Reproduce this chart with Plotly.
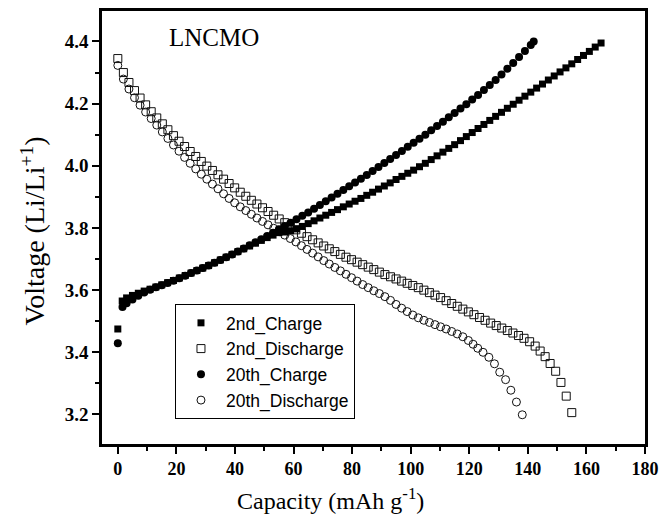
import plotly.graph_objects as go

# ---- data ----
cap_2nd_charge = [0, 1.5, 3, 5, 7, 9, 11, 13, 15, 17, 19, 21, 23, 25, 27, 29, 31, 33, 35, 37, 39,
                  41, 43, 45, 47, 49, 51, 53, 55, 57, 59, 61, 63, 65, 67, 69, 71, 73, 75, 77, 79,
                  81, 83, 85, 87, 89, 91, 93, 95, 97, 99, 101, 103, 105, 107, 109, 111, 113, 115,
                  117, 119, 121, 123, 125, 127, 129, 131, 133, 135, 137, 139, 141, 143, 145, 147,
                  149, 151, 153, 155, 157, 159, 161, 163, 165]
v_2nd_charge = [3.475, 3.565, 3.575, 3.583, 3.590, 3.597, 3.603, 3.610, 3.617, 3.624, 3.631,
                3.639, 3.647, 3.655, 3.663, 3.671, 3.679, 3.688, 3.697, 3.706, 3.715, 3.724,
                3.733, 3.742, 3.751, 3.760, 3.769, 3.777, 3.785, 3.787, 3.791, 3.797, 3.805,
                3.814, 3.823, 3.832, 3.841, 3.850, 3.859, 3.868, 3.877, 3.886, 3.895, 3.905,
                3.915, 3.925, 3.935, 3.945, 3.956, 3.966, 3.976, 3.986, 3.997, 4.008, 4.020,
                4.032, 4.044, 4.056, 4.068, 4.081, 4.094, 4.107, 4.120, 4.133, 4.146, 4.159,
                4.172, 4.185, 4.198, 4.211, 4.224, 4.237, 4.250, 4.263, 4.276, 4.289, 4.302,
                4.315, 4.328, 4.342, 4.355, 4.368, 4.382, 4.395]

cap_20th_charge = [0, 1.6, 3, 5, 7, 9, 11, 13, 15, 17, 19, 21, 23, 25, 27, 29, 31, 33, 35, 37, 39,
                   41, 43, 45, 47, 49, 51, 53, 55, 57, 59, 61, 63, 65, 67, 69, 71, 73, 75, 77, 79,
                   81, 83, 85, 87, 89, 91, 93, 95, 97, 99, 101, 103, 105, 107, 109, 111, 113, 115,
                   117, 119, 121, 123, 125, 127, 129, 131, 133, 135, 137, 139, 141, 142]
v_20th_charge = [3.429, 3.546, 3.558, 3.570, 3.582, 3.592, 3.601, 3.609, 3.616, 3.623, 3.630,
                 3.638, 3.646, 3.655, 3.663, 3.671, 3.679, 3.688, 3.697, 3.706, 3.715, 3.724,
                 3.734, 3.744, 3.754, 3.764, 3.774, 3.785, 3.796, 3.806, 3.817, 3.828, 3.839,
                 3.850, 3.862, 3.874, 3.886, 3.898, 3.910, 3.922, 3.934, 3.946, 3.958, 3.970,
                 3.983, 3.996, 4.009, 4.022, 4.035, 4.048, 4.061, 4.074, 4.087, 4.100, 4.114,
                 4.128, 4.142, 4.156, 4.170, 4.184, 4.198, 4.213, 4.228, 4.244, 4.260, 4.276,
                 4.294, 4.312, 4.331, 4.350, 4.369, 4.389, 4.400]

cap_2nd_discharge = [0, 1.9, 3.8, 5.7, 7.6, 9.5, 11.4, 13.3, 15.2, 17.1, 19.0, 20.9, 22.8, 24.7,
                     26.6, 28.5, 30.4, 32.3, 34.2, 36.1, 38.0, 39.9, 41.8, 43.7, 45.6, 47.5, 49.4,
                     51.3, 53.2, 55.1, 57.0, 58.9, 60.8, 62.7, 64.6, 66.5, 68.4, 70.3, 72.2, 74.1,
                     76.0, 77.9, 79.8, 81.7, 83.6, 85.5, 87.4, 89.3, 91.2, 93.1, 95.0, 96.9, 98.8,
                     100.7, 102.6, 104.5, 106.4, 108.3, 110.2, 112.1, 114.0, 115.9, 117.8, 119.7,
                     121.6, 123.5, 125.4, 127.3, 129.2, 131.1, 133.0, 134.9, 136.8, 138.7, 140.6,
                     142.5, 144.2, 145.9, 147.6, 149.5, 151.3, 153.1, 155.0]
v_2nd_discharge = [4.345, 4.300, 4.268, 4.242, 4.218, 4.196, 4.174, 4.154, 4.135, 4.116, 4.097,
                   4.079, 4.062, 4.046, 4.030, 4.014, 3.999, 3.985, 3.971, 3.957, 3.943, 3.929,
                   3.915, 3.902, 3.889, 3.877, 3.865, 3.853, 3.841, 3.829, 3.817, 3.805, 3.794,
                   3.783, 3.772, 3.762, 3.752, 3.742, 3.733, 3.724, 3.715, 3.706, 3.698, 3.690,
                   3.682, 3.674, 3.666, 3.658, 3.650, 3.643, 3.636, 3.629, 3.622, 3.615, 3.608,
                   3.600, 3.592, 3.584, 3.576, 3.566, 3.557, 3.548, 3.539, 3.530, 3.521, 3.512,
                   3.503, 3.494, 3.486, 3.478, 3.470, 3.462, 3.454, 3.445, 3.434, 3.420, 3.404,
                   3.386, 3.364, 3.339, 3.303, 3.259, 3.206]

cap_20th_discharge = [0, 1.9, 3.8, 5.7, 7.6, 9.5, 11.4, 13.3, 15.2, 17.1, 19.0, 20.9, 22.8, 24.7,
                      26.6, 28.5, 30.4, 32.3, 34.2, 36.1, 38.0, 39.9, 41.8, 43.7, 45.6, 47.5, 49.4,
                      51.3, 53.2, 55.1, 57.0, 58.9, 60.8, 62.7, 64.6, 66.5, 68.4, 70.3, 72.2, 74.1,
                      76.0, 77.9, 79.8, 81.7, 83.6, 85.5, 87.4, 89.3, 91.2, 93.1, 95.0, 96.9, 98.8,
                      100.7, 102.6, 104.5, 106.4, 108.3, 110.2, 112.1, 114.0, 115.9, 117.8, 119.7,
                      121.3, 122.9, 124.7, 126.7, 128.6, 130.4, 132.4, 134.2, 136.1, 138.1]
v_20th_discharge = [4.323, 4.279, 4.247, 4.219, 4.195, 4.173, 4.152, 4.131, 4.109, 4.088, 4.067,
                    4.047, 4.027, 4.008, 3.990, 3.973, 3.957, 3.941, 3.926, 3.910, 3.895, 3.881,
                    3.868, 3.856, 3.844, 3.832, 3.821, 3.810, 3.799, 3.788, 3.777, 3.766, 3.755,
                    3.743, 3.731, 3.719, 3.707, 3.695, 3.684, 3.673, 3.662, 3.651, 3.640, 3.629,
                    3.618, 3.608, 3.598, 3.589, 3.579, 3.567, 3.554, 3.542, 3.531, 3.520, 3.511,
                    3.503, 3.496, 3.489, 3.482, 3.475, 3.467, 3.459, 3.450, 3.438, 3.426, 3.413,
                    3.400, 3.384, 3.363, 3.336, 3.312, 3.278, 3.240, 3.199]

x_ticks = [0, 20, 40, 60, 80, 100, 120, 140, 160, 180]
y_ticks = [3.2, 3.4, 3.6, 3.8, 4.0, 4.2, 4.4]
sample_label = "LNCMO"

# ---- figure ----
fig = go.Figure()

fig.add_trace(go.Scatter(
    x=cap_2nd_discharge, y=v_2nd_discharge, mode="markers", name="2nd_Discharge",
    legendrank=2,
    marker=dict(symbol="square-open", size=8, color="#111", line=dict(width=1))))
fig.add_trace(go.Scatter(
    x=cap_20th_discharge, y=v_20th_discharge, mode="markers", name="20th_Discharge",
    legendrank=4,
    marker=dict(symbol="circle-open", size=8, color="#111", line=dict(width=1))))
fig.add_trace(go.Scatter(
    x=cap_2nd_charge, y=v_2nd_charge, mode="markers", name="2nd_Charge",
    legendrank=1,
    marker=dict(symbol="square", size=7, color="black")))
fig.add_trace(go.Scatter(
    x=cap_20th_charge, y=v_20th_charge, mode="markers", name="20th_Charge",
    legendrank=3,
    marker=dict(symbol="circle", size=8, color="black")))

axis_common = dict(
    showgrid=False, zeroline=False, showline=True, linecolor="black", linewidth=2.5,
    mirror=True, ticks="outside", ticklen=7, tickwidth=2, tickcolor="black",
)

fig.update_layout(
    width=663, height=514,
    margin=dict(l=94, r=26, t=0, b=78),
    paper_bgcolor="white", plot_bgcolor="white",
    showlegend=True,
    legend=dict(
        x=0.1344, y=0.3234, xanchor="left", yanchor="top",
        bgcolor="white", bordercolor="black", borderwidth=1,
        font=dict(family="Liberation Sans", size=17.5, color="black"),
        traceorder="normal", itemwidth=40,
    ),
    xaxis=dict(
        range=[-5.4, 180], tickmode="array", tickvals=x_ticks,
        ticktext=[str(v) for v in x_ticks],
        tickfont=dict(family="Liberation Serif", size=18, color="black", weight="bold"),
        minor=dict(ticks="outside", ticklen=4, tickwidth=2, tickcolor="black", dtick=10, tick0=0),
        **axis_common,
    ),
    yaxis=dict(
        range=[3.105, 4.498], tickmode="array", tickvals=y_ticks,
        ticktext=[f"{v:.1f}" for v in y_ticks],
        tickfont=dict(family="Liberation Serif", size=19, color="black", weight="bold"),
        minor=dict(ticks="outside", ticklen=4, tickwidth=2, tickcolor="black", dtick=0.1, tick0=3.1),
        **axis_common,
    ),
    annotations=[
        dict(x=16.8, y=4.412, xref="x", yref="y", text=sample_label, showarrow=False,
             xanchor="left", yanchor="middle",
             font=dict(family="Liberation Serif", size=25, color="black")),
        dict(x=0.42, y=-0.128, xref="paper", yref="paper",
             text="Capacity (mAh g<sup>-1</sup>)", showarrow=False,
             xanchor="center", yanchor="middle",
             font=dict(family="Liberation Serif", size=24, color="black")),
        dict(x=-0.127, y=0.491, xref="paper", yref="paper",
             text="Voltage (Li/Li<sup>+1</sup>)", showarrow=False, textangle=-90,
             xanchor="center", yanchor="middle",
             font=dict(family="Liberation Serif", size=28, color="black")),
    ],
)

fig.write_html("out.html")
